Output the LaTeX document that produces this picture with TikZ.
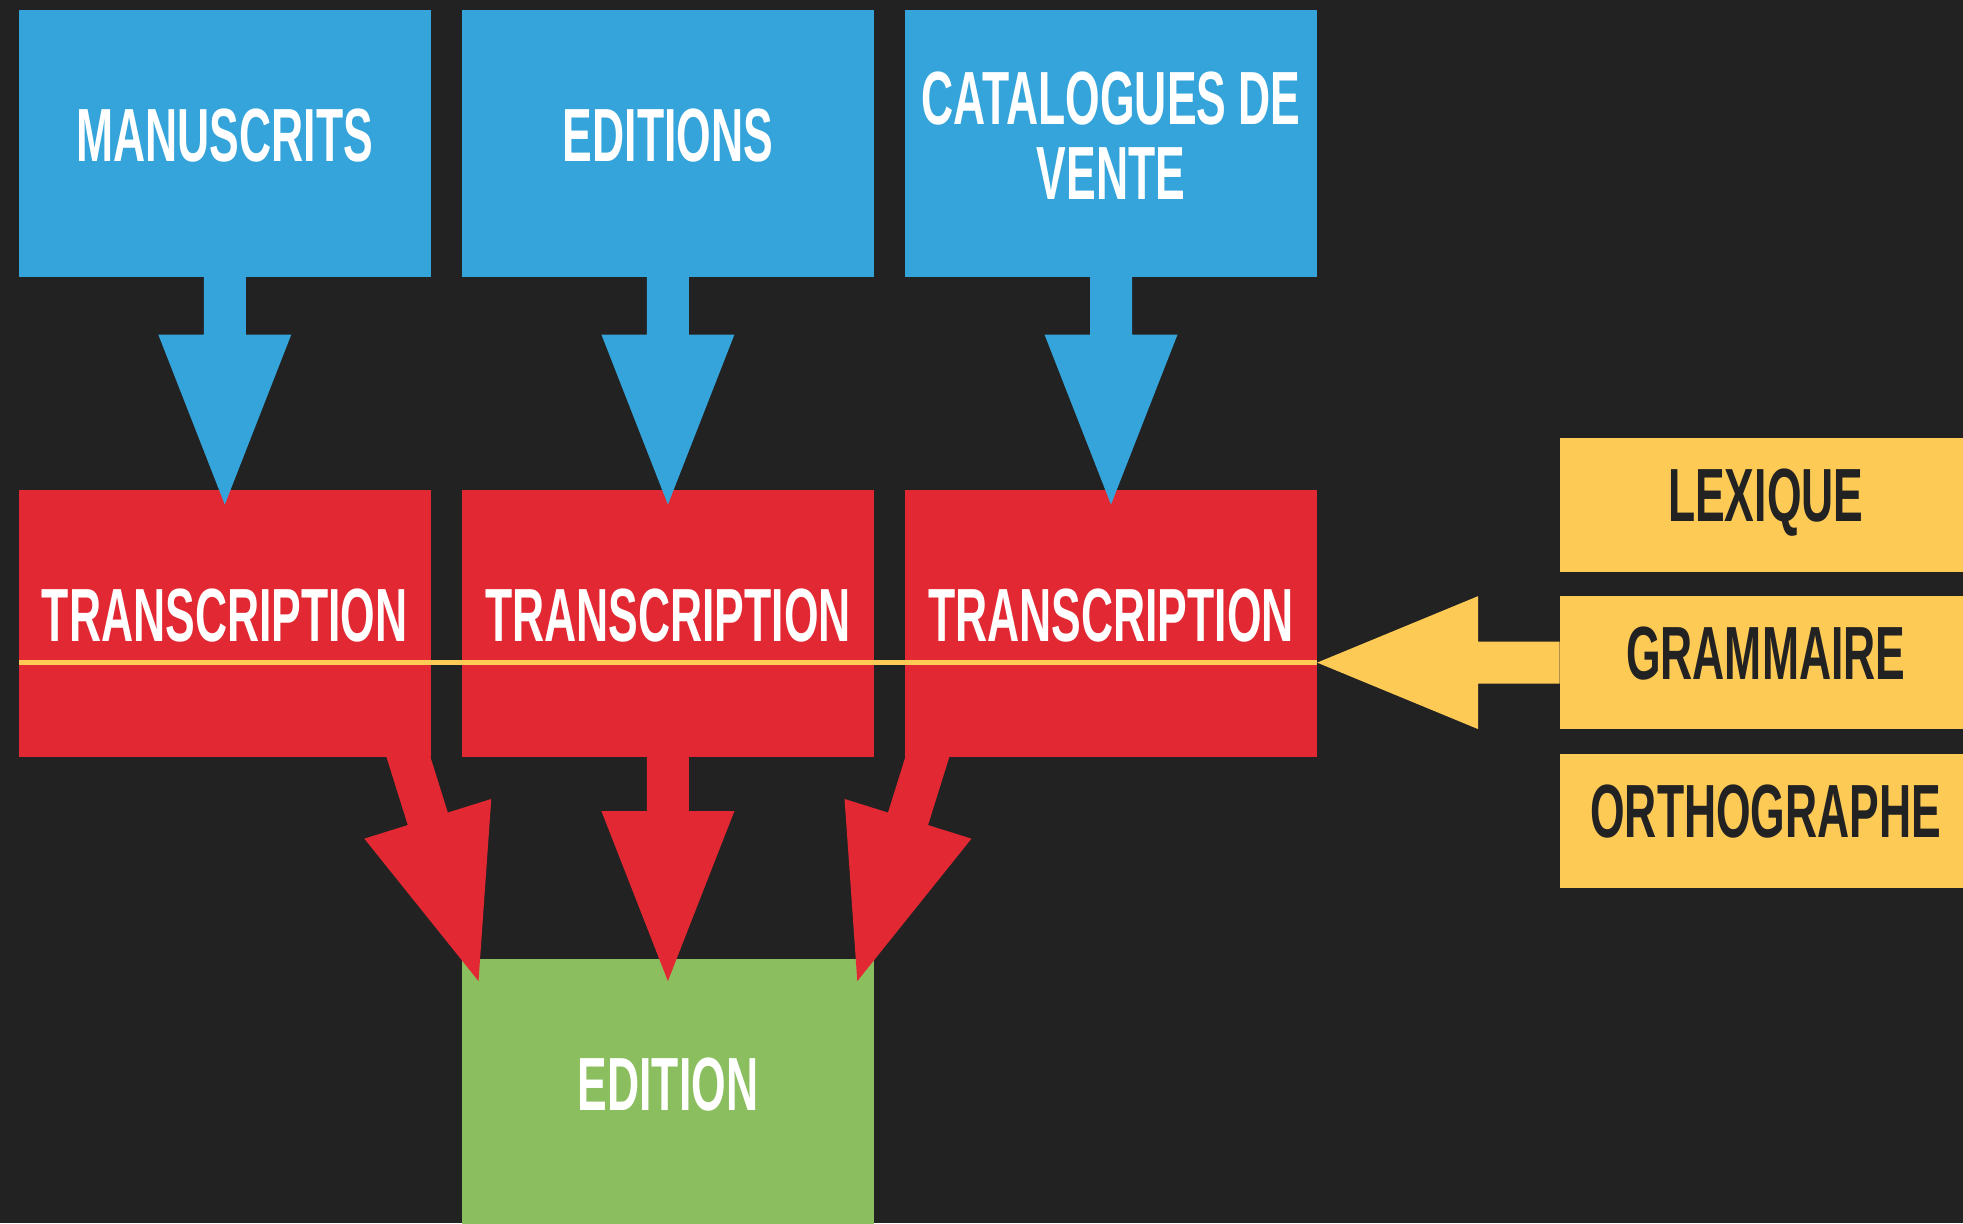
\documentclass[tikz,border=0pt]{standalone}
\usepackage{fontspec}
\newfontfamily\dinfont{Liberation Sans}[FakeStretch=0.59]
\usetikzlibrary{calc}
\definecolor{bgc}{HTML}{222222}
\definecolor{bluec}{HTML}{35A4DA}
\definecolor{redc}{HTML}{E22832}
\definecolor{greenc}{HTML}{8BBE5F}
\definecolor{yellowc}{HTML}{FECA56}
\definecolor{darktext}{HTML}{222222}
\pgfdeclarelayer{bg}\pgfdeclarelayer{arr}\pgfdeclarelayer{fg}
\pgfsetlayers{bg,arr,main,fg}
% #1 start, #2 tip, #3 colour, #4 head length
\newcommand\blockarrow[4]{%
  \coordinate (hb) at ($(#2)!#4!(#1)$);
  \fill[#3] ($(#1)!10.5pt!90:(#2)$) -- ($(hb)!10.5pt!90:(#2)$) -- ($(hb)!33.25pt!90:(#2)$) -- (#2)
    -- ($(hb)!33.25pt!-90:(#2)$) -- ($(hb)!10.5pt!-90:(#2)$) -- ($(#1)!10.5pt!-90:(#2)$) -- cycle;
}
\begin{document}
\begin{tikzpicture}[x=0.5pt,y=-0.5pt,
  box/.style={rectangle, inner sep=0pt, minimum width=205.75pt, minimum height=133.3pt,
    font=\dinfont\bfseries\fontsize{37.7pt}{37.15pt}\selectfont, text=white,
    text height=27pt, text depth=8.5pt},
  bluebox/.style={box, fill=bluec},
  redbox/.style={box, fill=redc},
  greenbox/.style={box, fill=greenc},
  yellowbox/.style={box, fill=yellowc, text=darktext, minimum height=66.75pt, text depth=10.5pt}]
\useasboundingbox (0,0) rectangle (1963,1223);
\begin{pgfonlayer}{bg}
  \fill[bgc] (0,0) rectangle (1963,1223);
  \node[greenbox] (g) at (667.9,1092.25) {EDITION};
\end{pgfonlayer}
% sources
\node[bluebox] (b1) at (224.8,143.35) {MANUSCRITS};
\node[bluebox] (b2) at (667.9,143.35) {EDITIONS};
\node[bluebox, align=center, text height=64.15pt, text depth=8.5pt] (b3) at (1111,143.35) {CATALOGUES DE\\VENTE};
% transcriptions
\node[redbox] (t1) at (224.8,623.25) {TRANSCRIPTION};
\node[redbox] (t2) at (667.9,623.25) {TRANSCRIPTION};
\node[redbox] (t3) at (1111,623.25) {TRANSCRIPTION};
% resources
\node[yellowbox] (y1) at (1765.75,505) {LEXIQUE};
\node[yellowbox] (y2) at (1765.75,662.6) {GRAMMAIRE};
\node[yellowbox] (y3) at (1765.75,820.9) {ORTHOGRAPHE};
% blue arrows
\begin{pgfonlayer}{fg}
  \coordinate (bt1) at ($(t1.north)+(0,15)$);
  \coordinate (bt2) at ($(t2.north)+(0,15)$);
  \coordinate (bt3) at ($(t3.north)+(0,15)$);
  \blockarrow{b1.south}{bt1}{bluec}{85pt}
  \blockarrow{b2.south}{bt2}{bluec}{85pt}
  \blockarrow{b3.south}{bt3}{bluec}{85pt}
  % yellow arrow and line
  \coordinate (yt) at (t3.east |- y2.west);
  \coordinate (yl) at (t1.west |- y2.west);
  \blockarrow{y2.west}{yt}{yellowc}{80.5pt}
  \draw[yellowc, line width=2.75pt] (yt) -- (yl);
\end{pgfonlayer}
% red arrows to edition
\begin{pgfonlayer}{arr}
  \coordinate (r1b) at ($(t1.south east)+(-22.5,0)$);
  \coordinate (r1t) at ($(g.north)+(-189.4,22.5)$);
  \coordinate (r1s) at ($(r1t)!1.2!(r1b)$);
  \coordinate (r3b) at ($(t3.south west)+(22.5,0)$);
  \coordinate (r3t) at ($(g.north)+(189.4,22.5)$);
  \coordinate (r3s) at ($(r3t)!1.2!(r3b)$);
  \coordinate (r2t) at ($(g.north)+(0,22.5)$);
  \coordinate (r2s) at ($(t2.south)+(0,-20)$);
  \blockarrow{r1s}{r1t}{redc}{85pt}
  \blockarrow{r2s}{r2t}{redc}{85pt}
  \blockarrow{r3s}{r3t}{redc}{85pt}
\end{pgfonlayer}
\end{tikzpicture}
\end{document}
